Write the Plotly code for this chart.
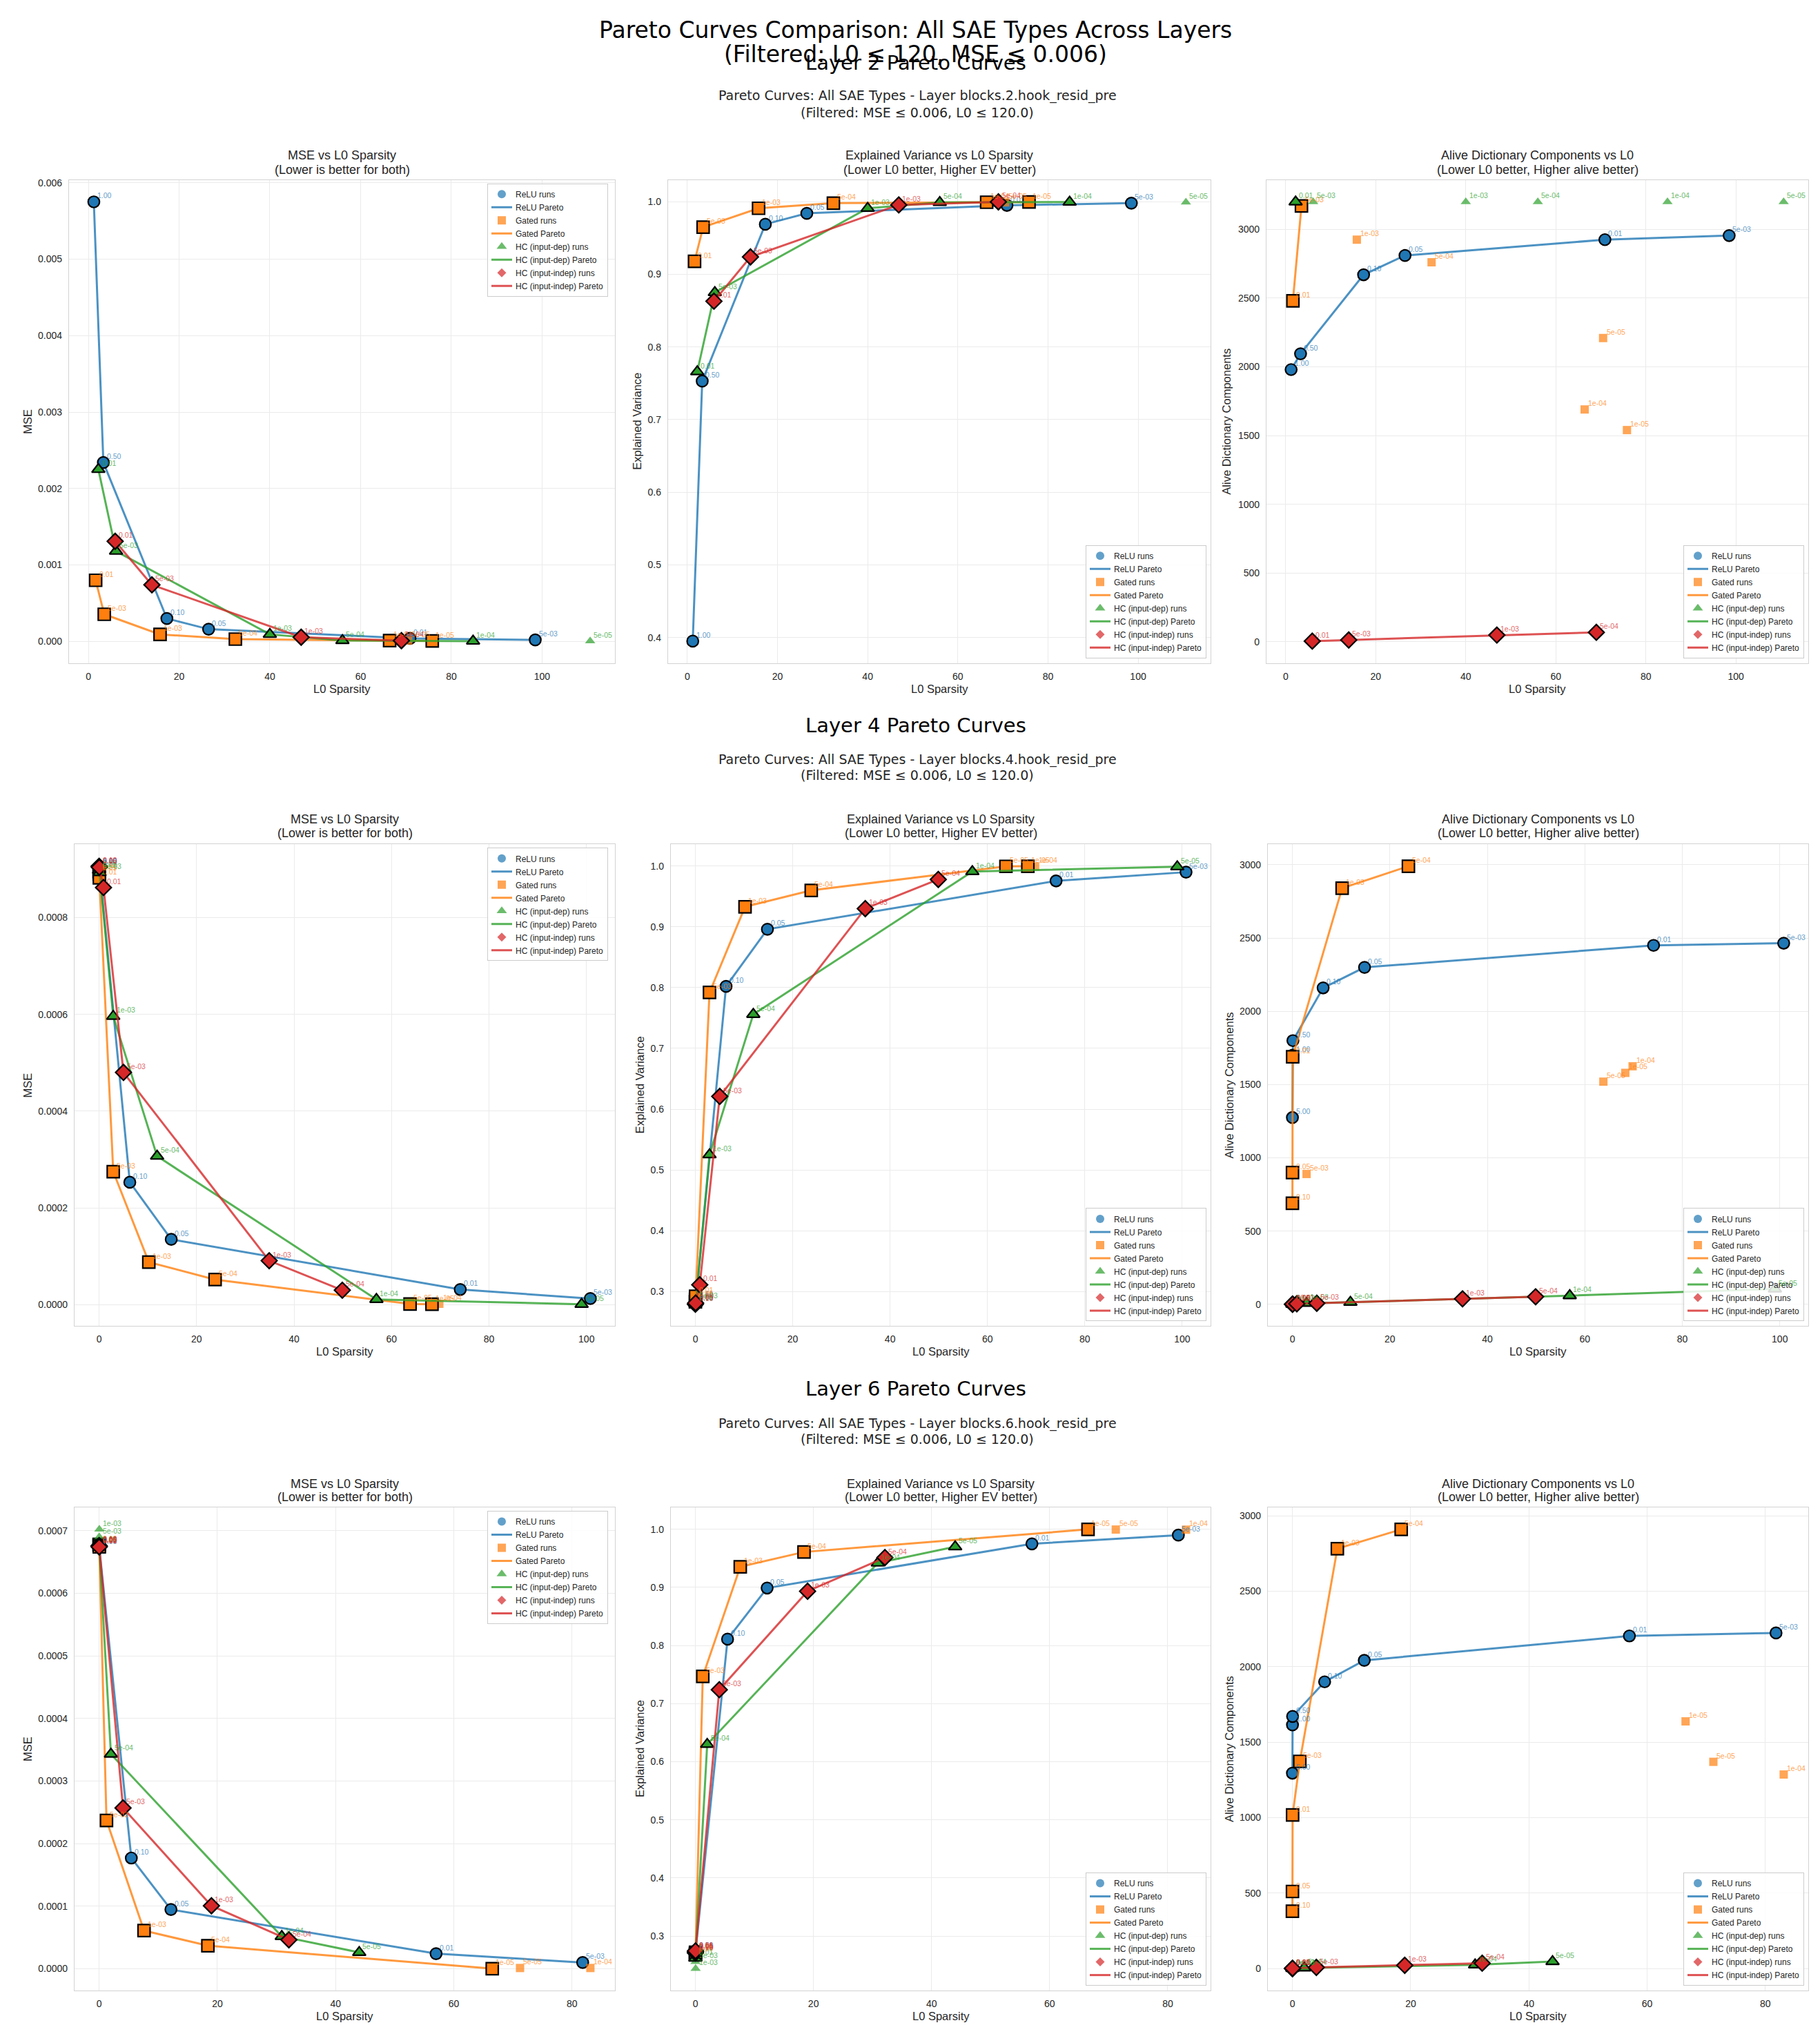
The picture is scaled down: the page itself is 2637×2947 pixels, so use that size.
import plotly.graph_objects as go

# ------------------------------------------------------------------ data
TYPES = ["ReLU", "Gated", "HC (input-dep)", "HC (input-indep)"]
COLORS = ["#1f77b4", "#ff7f0e", "#2ca02c", "#d62728"]
SYMBOLS = ["circle", "square", "triangle-up", "diamond"]
LAYERS = [2, 4, 6]

# Layer 2
L2_RELU_LABELS = ["1.00", "0.50", "0.10", "0.05", "0.01", "5e-03"]
L2_RELU_L0 = [1.2, 3.3, 17.3, 26.5, 70.9, 98.5]
L2_RELU_MSE = [0.00575, 0.00234, 0.00030, 0.00016, 0.000040, 0.000020]
L2_RELU_EV = [0.395, 0.753, 0.969, 0.984, 0.995, 0.998]
L2_RELU_ALIVE = [1980, 2095, 2670, 2810, 2925, 2955]

L2_GATED_LABELS = ["0.01", "5e-03", "1e-03", "5e-04", "1e-04", "5e-05", "1e-05"]
L2_GATED_L0 = [1.6, 3.5, 15.8, 32.4, 66.4, 70.5, 75.8]
L2_GATED_MSE = [0.00080, 0.000355, 0.000092, 0.000030, 0.000010, 0.000013, 0.000006]
L2_GATED_EV = [0.918, 0.965, 0.991, 0.998, 0.9993, 0.9991, 0.9996]
L2_GATED_ALIVE = [2480, 3170, 2925, 2760, 1690, 2210, 1540]

L2_HCD_LABELS = ["0.01", "5e-03", "1e-03", "5e-04", "1e-04", "5e-05"]
L2_HCD_L0 = [2.2, 6.1, 40.0, 56.0, 84.8, 110.6]
L2_HCD_MSE = [0.00225, 0.00118, 0.000092, 0.000012, 0.000004, 0.000005]
L2_HCD_EV = [0.766, 0.875, 0.991, 0.999, 0.9995, 0.9994]
L2_HCD_ALIVE = [3200, 3200, 3200, 3200, 3200, 3200]

L2_HCI_LABELS = ["0.01", "5e-03", "1e-03", "5e-04"]
L2_HCI_L0 = [5.9, 14.0, 46.9, 69.0]
L2_HCI_MSE = [0.00131, 0.00074, 0.000055, 0.000010]
L2_HCI_EV = [0.863, 0.924, 0.9956, 0.9998]
L2_HCI_ALIVE = [5, 13, 49, 69]

# Layer 4
L4_RELU_LABELS = ["5.00", "1.00", "0.50", "0.10", "0.05", "0.01", "5e-03"]
L4_RELU_L0 = [0.0, 0.05, 0.1, 6.3, 14.8, 74.1, 100.8]
L4_RELU_MSE = [0.000905, 0.000903, 0.000900, 0.000253, 0.000135, 0.0000315, 0.0000128]
L4_RELU_EV = [0.280, 0.283, 0.286, 0.802, 0.896, 0.9756, 0.990]
L4_RELU_ALIVE = [1275, 1700, 1800, 2160, 2300, 2450, 2465]

L4_GATED_LABELS = ["0.10", "0.05", "0.01", "5e-03", "1e-03", "5e-04", "5e-05", "1e-05", "1e-04"]
L4_GATED_L0 = [0.0, 0.02, 0.05, 2.9, 10.2, 23.8, 63.8, 68.3, 69.8]
L4_GATED_MSE = [0.000895, 0.000890, 0.000882, 0.000275, 0.000088, 0.000052, 0.0000015, 0.000001, 0.000002]
L4_GATED_EV = [0.283, 0.287, 0.292, 0.792, 0.933, 0.960, 0.9995, 0.9997, 0.9993]
L4_GATED_ALIVE = [690, 900, 1690, 890, 2840, 2990, 1520, 1580, 1625]

L4_HCD_LABELS = ["0.01", "5e-03", "1e-03", "5e-04", "1e-04", "5e-05"]
L4_HCD_L0 = [0.0, 0.1, 2.9, 11.9, 56.9, 99.0]
L4_HCD_MSE = [0.000898, 0.000893, 0.000596, 0.000307, 0.000011, 0.000001]
L4_HCD_EV = [0.280, 0.283, 0.525, 0.756, 0.991, 0.999]
L4_HCD_ALIVE = [2, 3, 8, 15, 60, 105]

L4_HCI_LABELS = ["0.10", "0.05", "0.01", "5e-03", "1e-03", "5e-04"]
L4_HCI_L0 = [0.0, 0.05, 0.9, 5.0, 34.9, 49.9]
L4_HCI_MSE = [0.000906, 0.000904, 0.000862, 0.000480, 0.000091, 0.000030]
L4_HCI_EV = [0.279, 0.281, 0.311, 0.621, 0.930, 0.978]
L4_HCI_ALIVE = [1, 2, 4, 8, 38, 52]

# Layer 6
L6_RELU_LABELS = ["5.00", "1.00", "0.50", "0.10", "0.05", "0.01", "5e-03"]
L6_RELU_L0 = [0.0, 0.01, 0.03, 5.45, 12.15, 57.0, 81.8]
L6_RELU_MSE = [0.000677, 0.000675, 0.000673, 0.000177, 0.0000947, 0.0000242, 0.0000101]
L6_RELU_EV = [0.270, 0.272, 0.274, 0.811, 0.899, 0.975, 0.990]
L6_RELU_ALIVE = [1295, 1615, 1671, 1900, 2042, 2204, 2224]

L6_GATED_LABELS = ["0.10", "0.05", "0.01", "5e-03", "1e-03", "5e-04", "1e-05", "5e-05", "1e-04"]
L6_GATED_L0 = [0.0, 0.01, 0.03, 1.25, 7.6, 18.4, 66.5, 71.2, 83.1]
L6_GATED_MSE = [0.000678, 0.000676, 0.000674, 0.000237, 0.0000611, 0.0000369, 0.0000003, 0.0000013, 0.0000013]
L6_GATED_EV = [0.268, 0.270, 0.272, 0.747, 0.9355, 0.961, 0.9999, 0.9996, 0.9994]
L6_GATED_ALIVE = [380, 511, 1018, 1373, 2782, 2910, 1638, 1370, 1286]

L6_HCD_LABELS = ["0.01", "5e-03", "1e-03", "5e-04", "1e-04", "5e-05"]
L6_HCD_L0 = [0.0, 0.02, 0.04, 2.0, 30.9, 44.0]
L6_HCD_MSE = [0.000677, 0.000690, 0.000702, 0.000343, 0.0000517, 0.0000262]
L6_HCD_EV = [0.262, 0.256, 0.244, 0.630, 0.942, 0.970]
L6_HCD_ALIVE = [1, 1, 1, 5, 25, 47]

L6_HCI_LABELS = ["0.10", "0.05", "0.01", "5e-03", "1e-03", "5e-04"]
L6_HCI_L0 = [0.0, 0.01, 0.02, 4.05, 19.0, 32.1]
L6_HCI_MSE = [0.000676, 0.000675, 0.000674, 0.000257, 0.0001007, 0.0000463]
L6_HCI_EV = [0.271, 0.273, 0.2745, 0.724, 0.8935, 0.9514]
L6_HCI_ALIVE = [0, 1, 2, 8, 22, 36]

# Panel definitions
PANEL_METRICS = ["mse", "ev", "alive"]
PANEL_YLABELS = ["MSE", "Explained Variance", "Alive Dictionary Components"]
PANEL_TITLES = ["MSE vs L0 Sparsity", "Explained Variance vs L0 Sparsity",
                "Alive Dictionary Components vs L0"]
PANEL_SUBTITLES = ["(Lower is better for both)", "(Lower L0 better, Higher EV better)",
                   "(Lower L0 better, Higher alive better)"]


def series(labels, l0, mse, ev, alive):
    return dict(labels=labels, l0=l0, mse=mse, ev=ev, alive=alive)


DATA = {
    2: [series(L2_RELU_LABELS, L2_RELU_L0, L2_RELU_MSE, L2_RELU_EV, L2_RELU_ALIVE),
        series(L2_GATED_LABELS, L2_GATED_L0, L2_GATED_MSE, L2_GATED_EV, L2_GATED_ALIVE),
        series(L2_HCD_LABELS, L2_HCD_L0, L2_HCD_MSE, L2_HCD_EV, L2_HCD_ALIVE),
        series(L2_HCI_LABELS, L2_HCI_L0, L2_HCI_MSE, L2_HCI_EV, L2_HCI_ALIVE)],
    4: [series(L4_RELU_LABELS, L4_RELU_L0, L4_RELU_MSE, L4_RELU_EV, L4_RELU_ALIVE),
        series(L4_GATED_LABELS, L4_GATED_L0, L4_GATED_MSE, L4_GATED_EV, L4_GATED_ALIVE),
        series(L4_HCD_LABELS, L4_HCD_L0, L4_HCD_MSE, L4_HCD_EV, L4_HCD_ALIVE),
        series(L4_HCI_LABELS, L4_HCI_L0, L4_HCI_MSE, L4_HCI_EV, L4_HCI_ALIVE)],
    6: [series(L6_RELU_LABELS, L6_RELU_L0, L6_RELU_MSE, L6_RELU_EV, L6_RELU_ALIVE),
        series(L6_GATED_LABELS, L6_GATED_L0, L6_GATED_MSE, L6_GATED_EV, L6_GATED_ALIVE),
        series(L6_HCD_LABELS, L6_HCD_L0, L6_HCD_MSE, L6_HCD_EV, L6_HCD_ALIVE),
        series(L6_HCI_LABELS, L6_HCI_L0, L6_HCI_MSE, L6_HCI_EV, L6_HCI_ALIVE)],
}

# ------------------------------------------------------------------ layout geometry (px)
W, H = 2637, 2947
ROW_TOP = [249, 1213, 2175]
ROW_BOT = [950, 1912, 2876]
COL_LEFT = [[92, 960, 1827], [100, 964, 1829], [100, 964, 1829]]
COL_RIGHT = [883, 1746, 2612]
YLABEL_X = [[32, 915, 1769], [32, 919, 1773], [32, 919, 1773]]
LAYER_TITLE_Y = [79, 1040, 2003]
SUB1_Y = [127, 1090, 2053]
SUB2_Y = [151, 1113, 2076]
PT1_Y = [213, 1177, 2141]
PT2_Y = [234, 1197, 2160]

MSE_TICKS = {2: (0.001, ".3f"), 4: (0.0002, ".4f"), 6: (0.0001, ".4f")}

ARIAL = "Liberation Sans, Arial, sans-serif"
DEJAVU = "DejaVu Sans, sans-serif"
TXT = "#262626"
RUN_SIZE = [12, 12, 13, 10]
PARETO_SIZE = [16.5, 17.5, 16.5, 17.5]


def fx(p):
    return p / W


def fy(p):
    return 1 - p / H


def rgba(hexc, a):
    h = hexc.lstrip("#")
    return "rgba(%d,%d,%d,%.2f)" % (int(h[0:2], 16), int(h[2:4], 16), int(h[4:6], 16), a)


def pareto_idx(l0, y, minimize):
    order = sorted(range(len(l0)), key=lambda i: l0[i])
    best = None
    keep = []
    for i in order:
        v = y[i]
        if best is None or (v < best if minimize else v > best):
            keep.append(i)
            best = v
    return keep


def pad_range(vals):
    lo, hi = min(vals), max(vals)
    span = hi - lo
    return [lo - 0.05 * span, hi + 0.05 * span]


fig = go.Figure()
annotations = []
layout_extra = {}

# Super title
annotations.append(dict(x=0.5, y=fy(32), xref="paper", yref="paper", showarrow=False,
                        text="Pareto Curves Comparison: All SAE Types Across Layers",
                        font=dict(family=DEJAVU, size=33, color="black"),
                        xanchor="center", yanchor="middle"))
annotations.append(dict(x=0.5, y=fy(67), xref="paper", yref="paper", showarrow=False,
                        text="(Filtered: L0 ≤ 120, MSE ≤ 0.006)",
                        font=dict(family=DEJAVU, size=33, color="black"),
                        xanchor="center", yanchor="middle"))

panel = 0
for r, layer in enumerate(LAYERS):
    ldata = DATA[layer]
    annotations.append(dict(x=0.5, y=fy(LAYER_TITLE_Y[r]), xref="paper", yref="paper",
                            showarrow=False, text=f"Layer {layer} Pareto Curves",
                            font=dict(family=DEJAVU, size=29, color="black"),
                            xanchor="center", yanchor="middle"))
    annotations.append(dict(x=0.501, y=fy(SUB1_Y[r]), xref="paper", yref="paper",
                            showarrow=False,
                            text=f"Pareto Curves: All SAE Types - Layer blocks.{layer}.hook_resid_pre",
                            font=dict(family=DEJAVU, size=19, color=TXT),
                            xanchor="center", yanchor="middle"))
    annotations.append(dict(x=0.501, y=fy(SUB2_Y[r]), xref="paper", yref="paper",
                            showarrow=False, text="(Filtered: MSE ≤ 0.006, L0 ≤ 120.0)",
                            font=dict(family=DEJAVU, size=19, color=TXT),
                            xanchor="center", yanchor="middle"))

    all_l0 = [v for s in ldata for v in s["l0"]]
    xr = pad_range(all_l0)

    for c, metric in enumerate(PANEL_METRICS):
        panel += 1
        sfx = "" if panel == 1 else str(panel)
        xref, yref = "x" + sfx, "y" + sfx
        legname = "legend" + sfx
        left, right = COL_LEFT[r][c], COL_RIGHT[c]
        top, bot = ROW_TOP[r], ROW_BOT[r]
        minimize = metric == "mse"

        all_y = [v for s in ldata for v in s[metric]]
        yr = pad_range(all_y)

        for t, name in enumerate(TYPES):
            s = ldata[t]
            l0, yv, labels = s["l0"], s[metric], s["labels"]
            fig.add_trace(go.Scatter(
                x=l0, y=yv, mode="markers", name=f"{name} runs",
                marker=dict(symbol=SYMBOLS[t], color=COLORS[t], size=RUN_SIZE[t],
                            opacity=0.7, line=dict(width=0)),
                xaxis=xref, yaxis=yref, legend=legname, hoverinfo="skip"))
            idx = pareto_idx(l0, yv, minimize)
            pxs = [l0[i] for i in idx]
            pys = [yv[i] for i in idx]
            fig.add_trace(go.Scatter(
                x=pxs, y=pys, mode="lines", name=f"{name} Pareto",
                line=dict(color=rgba(COLORS[t], 0.8), width=3),
                xaxis=xref, yaxis=yref, legend=legname, hoverinfo="skip"))
            fig.add_trace(go.Scatter(
                x=pxs, y=pys, mode="markers", showlegend=False,
                marker=dict(symbol=SYMBOLS[t], color=COLORS[t], size=PARETO_SIZE[t],
                            line=dict(color="black", width=2.2)),
                xaxis=xref, yaxis=yref, hoverinfo="skip"))
            for i in range(len(l0)):
                annotations.append(dict(
                    x=l0[i], y=yv[i], xref=xref, yref=yref, text=labels[i],
                    showarrow=False, xanchor="left", yanchor="bottom",
                    xshift=3, yshift=1, opacity=0.7,
                    font=dict(family=ARIAL, size=10.5, color=COLORS[t])))

        if metric == "mse":
            dt, tf = MSE_TICKS[layer]
        elif metric == "ev":
            dt, tf = 0.1, ".1f"
        else:
            dt, tf = 500, "d"

        common = dict(showgrid=True, gridcolor="#ebebeb", gridwidth=1, zeroline=False,
                      showline=True, linecolor="#d3d3d3", linewidth=1.3, mirror=True,
                      ticks="outside", ticklen=6, tickcolor="rgba(0,0,0,0)",
                      tickfont=dict(family=ARIAL, size=14, color=TXT))
        layout_extra["xaxis" + sfx] = dict(domain=[fx(left), fx(right)], range=xr,
                                           anchor=yref, dtick=20, tick0=0, **common)
        layout_extra["yaxis" + sfx] = dict(domain=[fy(bot), fy(top)], range=yr,
                                           anchor=xref, dtick=dt, tick0=0, tickformat=tf,
                                           **common)

        if metric == "mse":
            leg = dict(x=fx(right - 10), y=fy(top + 5), xanchor="right", yanchor="top")
        else:
            leg = dict(x=fx(right - 6), y=fy(bot - 7), xanchor="right", yanchor="bottom")
        leg.update(bgcolor="rgba(255,255,255,0.85)", bordercolor="#cccccc", borderwidth=1,
                   font=dict(family=ARIAL, size=12, color=TXT), tracegroupgap=0,
                   itemwidth=30)
        layout_extra[legname] = leg

        cx = (left + right) / 2
        annotations.append(dict(x=fx(cx), y=fy(PT1_Y[r]), xref="paper", yref="paper",
                                showarrow=False, text=PANEL_TITLES[c],
                                font=dict(family=ARIAL, size=18, color=TXT),
                                xanchor="center", yanchor="middle"))
        annotations.append(dict(x=fx(cx), y=fy(PT2_Y[r]), xref="paper", yref="paper",
                                showarrow=False, text=PANEL_SUBTITLES[c],
                                font=dict(family=ARIAL, size=18, color=TXT),
                                xanchor="center", yanchor="middle"))
        annotations.append(dict(x=fx(cx), y=fy(bot + 37), xref="paper", yref="paper",
                                showarrow=False, text="L0 Sparsity",
                                font=dict(family=ARIAL, size=16.5, color=TXT),
                                xanchor="center", yanchor="middle"))
        annotations.append(dict(x=fx(YLABEL_X[r][c]), y=fy((top + bot) / 2),
                                xref="paper", yref="paper", showarrow=False,
                                text=PANEL_YLABELS[c], textangle=-90,
                                font=dict(family=ARIAL, size=16.5, color=TXT),
                                xanchor="center", yanchor="middle"))

fig.update_layout(
    width=W, height=H, autosize=False,
    margin=dict(l=0, r=0, t=0, b=0),
    paper_bgcolor="white", plot_bgcolor="white",
    font=dict(family=ARIAL, color=TXT),
    annotations=annotations,
    **layout_extra,
)

fig.write_html("out.html")
